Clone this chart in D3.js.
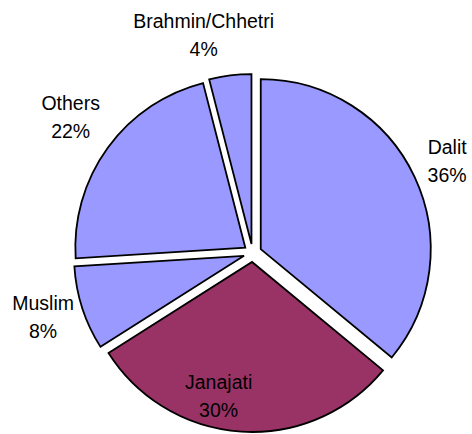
<!DOCTYPE html>
<html>
<head>
<meta charset="utf-8">
<script src="https://cdn.jsdelivr.net/npm/d3@7"></script>
<style>
  body { margin: 0; background: #fff; }
  text { font-family: "Liberation Sans", Arial, sans-serif; fill: #000; }
</style>
</head>
<body>
<div id="pie-chart"></div>
<script>
// Chart data
const groups = ["Dalit", "Janajati", "Muslim", "Others", "Brahmin/Chhetri"];
const shares = [36, 30, 8, 22, 4];
const colors = ["#9999ff", "#993366", "#9999ff", "#9999ff", "#9999ff"];

// Layout
const svgWidth = 472;
const svgHeight = 434;
const center = { x: 252.6, y: 253 };
const radius = 170;
const explode = 9;
const labelRadius = 215;
const fontSize = 19.5;
const lineGap = 28;

// label placement tweaks (Excel-style best fit)
const labelNudge = {
    "Dalit": { r: labelRadius, dx: 0, dy: 0 },
    "Janajati": { r: 143, dx: -25, dy: 0 },
    "Muslim": { r: labelRadius, dx: -5, dy: -2 },
    "Others": { r: labelRadius, dx: -8, dy: -10 },
    "Brahmin/Chhetri": { r: labelRadius, dx: -22, dy: -5 }
};

const data = groups.map((g, i) => ({ group: g, share: shares[i], color: colors[i] }));

const svg = d3.select("#pie-chart")
    .append("svg")
    .attr("width", svgWidth)
    .attr("height", svgHeight);

const chart = svg.append("g")
    .attr("transform", `translate(${center.x},${center.y})`);

const pie = d3.pie()
    .sort(null)
    .value(d => d.share);

const arc = d3.arc()
    .innerRadius(0)
    .outerRadius(radius);

const arcs = pie(data);

// Slices, each pulled out from the centre
chart.selectAll(".slice")
    .data(arcs)
    .enter()
    .append("path")
    .attr("class", "slice")
    .attr("d", arc)
    .attr("transform", d => {
        const mid = (d.startAngle + d.endAngle) / 2;
        return `translate(${explode * Math.sin(mid)},${-explode * Math.cos(mid)})`;
    })
    .attr("fill", d => d.data.color)
    .attr("stroke", "#000")
    .attr("stroke-width", 1.8)
    .attr("stroke-linejoin", "miter");

// Labels: name and percentage on two lines
const labels = chart.selectAll(".label")
    .data(arcs)
    .enter()
    .append("text")
    .attr("class", "label")
    .attr("text-anchor", "middle")
    .style("font-size", fontSize + "px")
    .attr("transform", d => {
        const mid = (d.startAngle + d.endAngle) / 2;
        const n = labelNudge[d.data.group];
        const x = n.r * Math.sin(mid) + n.dx;
        const y = -n.r * Math.cos(mid) + n.dy;
        return `translate(${x},${y})`;
    });

labels.append("tspan")
    .attr("x", 0)
    .attr("y", -lineGap / 2 + fontSize * 0.36)
    .text(d => d.data.group);

labels.append("tspan")
    .attr("x", 0)
    .attr("y", lineGap / 2 + fontSize * 0.36)
    .text(d => d.data.share + "%");
</script>
</body>
</html>
